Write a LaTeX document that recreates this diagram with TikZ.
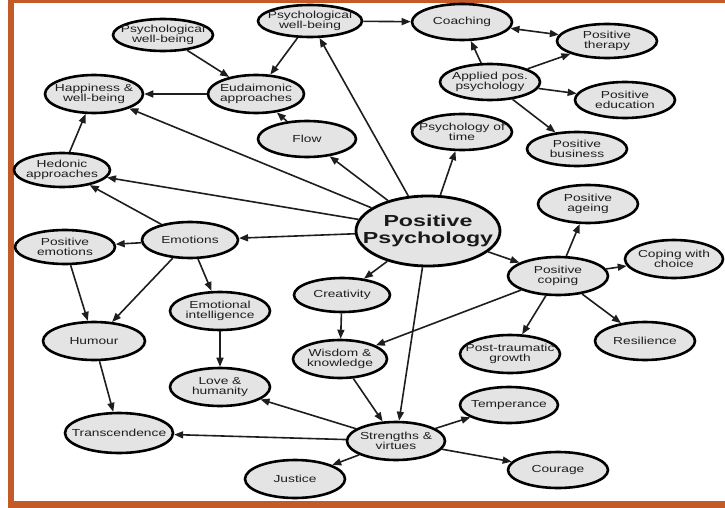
\documentclass[tikz,border=0pt]{standalone}
\usepackage{fontspec}
\usetikzlibrary{shapes.geometric,arrows.meta}
\newfontfamily\nodefont[FakeStretch=1.35]{Liberation Sans}
\newfontfamily\ppfont[FakeStretch=1.45]{Liberation Sans Bold}
\definecolor{frameorange}{RGB}{196,90,40}
\definecolor{bubfill}{RGB}{228,228,228}
\definecolor{inkgray}{RGB}{30,30,30}
\newcommand\ellnode[6]{%
  \node[bubble,minimum width=#4pt,minimum height=#5pt] (#1) at (#2,#3) {};
  \node[lbl] (#1-t) at (#1.center) {#6};}
\begin{document}
\begin{tikzpicture}[x=1pt,y=-1pt,
  bubble/.style={ellipse,draw=black,line width=2.6pt,fill=bubfill,inner sep=0pt},
  lbl/.style={font=\nodefont\fontsize{10.2}{9.8}\selectfont,text=inkgray,align=center,inner sep=0pt},
  con/.style={draw=inkgray,line width=1.6pt,-{Triangle[length=9pt,width=7pt]}},
  biocon/.style={draw=inkgray,line width=1.6pt,{Triangle[length=9pt,width=7pt]}-{Triangle[length=9pt,width=7pt]}}]
\useasboundingbox (0,0) rectangle (725,508);
% frame
\fill[frameorange] (8,0) rectangle (725,3.5);
\fill[frameorange] (8,0) rectangle (14,507);
\fill[frameorange] (8,501) rectangle (725,507.5);
% nodes
\ellnode{pwbL}{163}{35}{100}{32}{Psychological\\well-being}
\ellnode{pwbT}{310}{21}{104}{32}{Psychological\\well-being}
\ellnode{happy}{94}{94}{98}{38}{Happiness \&\\well-being}
\ellnode{eud}{256}{94}{96}{38}{Eudaimonic\\approaches}
\ellnode{flow}{307}{139}{98}{36}{Flow}
\ellnode{hedon}{62}{170}{96}{34}{Hedonic\\approaches}
\ellnode{emot}{190}{240}{96}{36}{Emotions}
\ellnode{posem}{65}{247}{100}{34}{Positive\\emotions}
\ellnode{coach}{462}{22}{100}{36}{Coaching}
\ellnode{pther}{607}{41}{100}{34}{Positive\\therapy}
\ellnode{applied}{490}{82}{100}{36}{Applied pos.\\psychology}
\ellnode{pedu}{625}{100}{100}{36}{Positive\\education}
\ellnode{ptime}{462}{132}{100}{36}{Psychology of\\time}
\ellnode{pbus}{577}{149}{100}{34}{Positive\\business}
\ellnode{page}{588}{204}{100}{38}{Positive\\ageing}
\node[bubble,minimum width=144pt,minimum height=70pt,line width=2.8pt] (pp) at (428,231) {};
\node[font=\ppfont\fontsize{16}{17}\selectfont,text=black!90,align=center,inner sep=0pt] (pp-t) at (pp.center) {Positive\\Psychology};
\ellnode{choice}{674}{259}{98}{38}{Coping with\\choice}
\ellnode{pcope}{558}{276}{100}{38}{Positive\\coping}
\ellnode{creat}{342}{295}{96}{34}{Creativity}
\ellnode{humour}{94}{341}{102}{38}{Humour}
\ellnode{ei}{220}{311}{100}{38}{Emotional\\intelligence}
\ellnode{wisdom}{340}{359}{94}{38}{Wisdom \&\\knowledge}
\ellnode{ptg}{510}{354}{100}{38}{Post-traumatic\\growth}
\ellnode{resil}{645}{341}{100}{38}{Resilience}
\ellnode{love}{220}{387}{100}{38}{Love \&\\humanity}
\ellnode{temper}{509}{405}{98}{36}{Temperance}
\ellnode{trans}{119}{433}{108}{40}{Transcendence}
\ellnode{strength}{396}{441}{98}{38}{Strengths \&\\virtues}
\ellnode{courage}{558}{470}{100}{36}{Courage}
\ellnode{justice}{295}{479}{100}{38}{Justice}
% connectors
\draw[con] (pwbL) -- (eud);
\draw[con] (pwbT) -- (eud);
\draw[con] (eud) -- (happy);
\draw[con] (flow) -- (eud);
\draw[con] (hedon) -- (happy);
\draw[con] (pp) -- (happy);
\draw[con] (pp) -- (hedon);
\draw[con] (pp) -- (flow);
\draw[con] (pp) -- (pwbT);
\draw[con] (pwbT) -- (coach);
\draw[con] (applied) -- (coach);
\draw[biocon] (coach) -- (pther);
\draw[con] (applied) -- (pther);
\draw[con] (applied) -- (pedu);
\draw[con] (applied) -- (pbus);
\draw[con] (pp) -- (ptime);
\draw[con] (pp) -- (emot);
\draw[con] (emot) -- (hedon);
\draw[con] (emot) -- (posem);
\draw[con] (posem) -- (humour);
\draw[con] (emot) -- (humour);
\draw[con] (emot) -- (ei);
\draw[con] (ei) -- (love);
\draw[con] (humour) -- (trans);
\draw[con] (pp) -- (creat);
\draw[con] (creat) -- (wisdom);
\draw[con] (pp) -- (strength);
\draw[con] (pp) -- (pcope);
\draw[con] (pcope) -- (page);
\draw[con] (pcope) -- (choice);
\draw[con] (pcope) -- (ptg);
\draw[con] (pcope) -- (resil);
\draw[con] (pcope) -- (wisdom);
\draw[con] (wisdom) -- (strength);
\draw[con] (strength) -- (love);
\draw[con] (strength) -- (trans);
\draw[con] (strength) -- (justice);
\draw[con] (strength) -- (temper);
\draw[con] (strength) -- (courage);
\end{tikzpicture}
\end{document}
